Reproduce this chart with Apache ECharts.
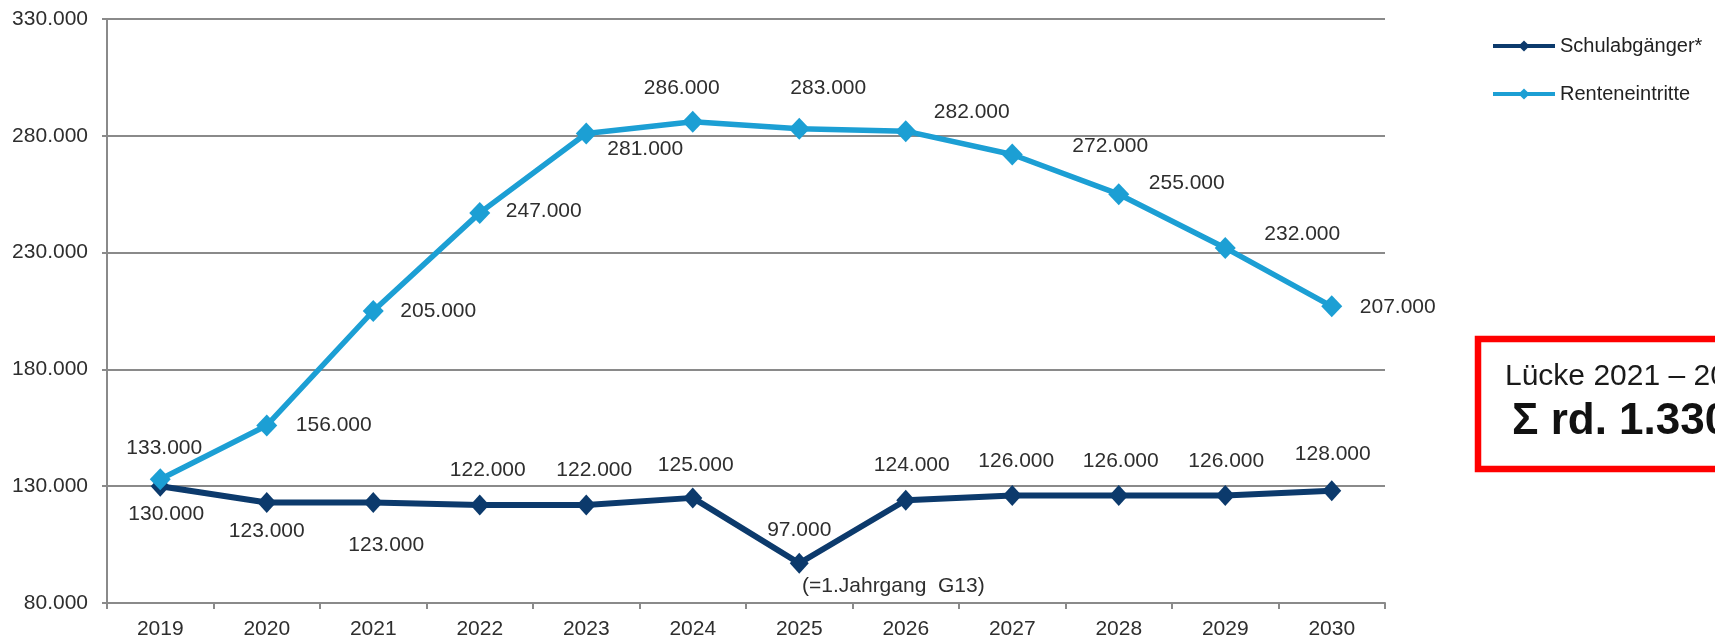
<!DOCTYPE html>
<html>
<head>
<meta charset="utf-8">
<script src="https://cdn.jsdelivr.net/npm/echarts@6/dist/echarts.min.js"></script>
<style>
html,body{margin:0;padding:0;background:#fff;}
#chart{width:1715px;height:637px;}
</style>
</head>
<body>
<div id="chart"></div>
<script>
// ---- data ----
const years = ['2019','2020','2021','2022','2023','2024','2025','2026','2027','2028','2029','2030'];
const schulabgaenger = [130000,123000,123000,122000,122000,125000,97000,124000,126000,126000,126000,128000];
const renteneintritte = [133000,156000,205000,247000,281000,286000,283000,282000,272000,255000,232000,207000];
const seriesNames = ['Schulabgänger*','Renteneintritte'];
const yTicks = {min: 80000, max: 330000, step: 50000};
const annotationText = '(=1.Jahrgang  G13)';
const boxLine1 = 'Lücke 2021 – 2030';
const boxLine2 = 'Σ rd. 1.330.000';

// ---- label placement (layout, not data) ----
const schulLabelOffsets = [[6,28],[0,29],[13,43],[8,-35],[8,-35],[3,-33],[0,-33],[6,-35],[4,-34],[2,-34],[1,-34],[1,-37]];
const renteLabelOffsets = [[4,-31],[67,0],[65,0],[64,-2],[59,16],[-11,-34],[29,-41],[66,-19],[98,-8],[68,-11],[77,-14],[66,1]];

const fmt = v => v.toLocaleString('de-DE');
const FONT = 'Liberation Sans, Arial, sans-serif';
const TXT = '#2e2e2e';

function buildData(values, offsets) {
  return values.map((v, i) => ({
    value: v,
    label: { offset: offsets[i] }
  }));
}

const chart = echarts.init(document.getElementById('chart'), null, {renderer: 'canvas'});
chart.setOption({
  backgroundColor: '#ffffff',
  animation: false,
  textStyle: { fontFamily: FONT },
  grid: { left: 107, right: 330, top: 19, bottom: 34, containLabel: false, outerBoundsMode: 'none' },
  legend: {
    data: seriesNames,
    orient: 'vertical',
    left: 1486,
    top: 31,
    itemWidth: 62,
    itemHeight: 14,
    itemGap: 28,
    itemTextGap: 3,
    textStyle: { fontSize: 20, color: '#222', fontFamily: FONT },
    lineStyle: { width: 4 }
  },
  xAxis: {
    type: 'category',
    data: years,
    boundaryGap: true,
    axisLine: { lineStyle: { color: '#8a8a8a', width: 2 } },
    axisTick: { show: true, length: 6, lineStyle: { color: '#8a8a8a', width: 2 } },
    axisLabel: { fontSize: 21, color: TXT, margin: 16, fontFamily: FONT }
  },
  yAxis: {
    type: 'value',
    min: yTicks.min,
    max: yTicks.max,
    interval: yTicks.step,
    axisLine: { show: true, lineStyle: { color: '#8a8a8a', width: 2 } },
    axisTick: { show: true, length: 5, lineStyle: { color: '#8a8a8a', width: 2 } },
    splitLine: { show: true, lineStyle: { color: '#8a8a8a', width: 2 } },
    axisLabel: { fontSize: 21, color: TXT, margin: 19, fontFamily: FONT, formatter: v => fmt(v) }
  },
  series: [
    {
      name: seriesNames[0],
      type: 'line',
      data: buildData(schulabgaenger, schulLabelOffsets),
      symbol: 'diamond',
      symbolSize: [19, 21],
      lineStyle: { color: '#0c3a6c', width: 6 },
      itemStyle: { color: '#0c3a6c' },
      label: {
        show: true, position: 'inside', fontSize: 21, color: TXT, fontFamily: FONT,
        formatter: p => fmt(p.value)
      },
      z: 2
    },
    {
      name: seriesNames[1],
      type: 'line',
      data: buildData(renteneintritte, renteLabelOffsets),
      symbol: 'diamond',
      symbolSize: [21, 22],
      lineStyle: { color: '#1c9fd4', width: 5.5 },
      itemStyle: { color: '#1c9fd4' },
      label: {
        show: true, position: 'inside', fontSize: 21, color: TXT, fontFamily: FONT,
        formatter: p => fmt(p.value)
      },
      z: 3
    }
  ],
  graphic: [
    {
      type: 'text',
      left: 802,
      top: 576,
      style: { text: annotationText, fontSize: 21, fill: TXT, fontFamily: FONT }
    },
    {
      type: 'rect',
      shape: { x: 1478, y: 339, width: 400, height: 130 },
      style: { fill: 'none', stroke: '#ff0000', lineWidth: 6.5 },
      silent: true
    },
    {
      type: 'text',
      x: 1505,
      y: 376.5,
      style: { text: boxLine1, fontSize: 30, fill: '#1a1a1a', fontFamily: FONT, verticalAlign: 'middle', align: 'left' }
    },
    {
      type: 'text',
      x: 1512,
      y: 422,
      style: { text: boxLine2, fontSize: 44, fontWeight: 'bold', fill: '#111', fontFamily: FONT, verticalAlign: 'middle', align: 'left' }
    }
  ]
});
</script>
</body>
</html>
